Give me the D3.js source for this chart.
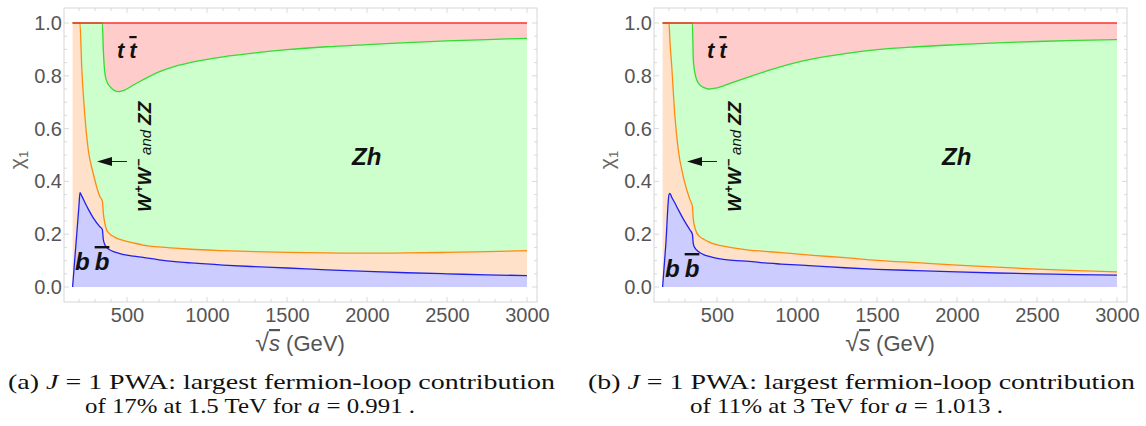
<!DOCTYPE html>
<html><head><meta charset="utf-8">
<script src="https://cdn.jsdelivr.net/npm/d3@7"></script>
<style>body{margin:0;background:#fff}svg{display:block}</style>
</head><body>
<svg id="chart" width="1146" height="426"></svg>
<script>
// centre-of-mass energy grid (GeV)
const sqrtS = [160,180,200,206,217,237,258,289,331,346,352,362,373,394,420,446,480,540,600,700,800,900,1100,1300,1500,1750,2000,2250,2500,2750,3000];

// panel (a): cumulative upper edges of the bb, bb+WW/ZZ and bb+WW/ZZ+Zh shares; tt fills the rest up to 1
const bbUpperA = [0,0.155,0.31,0.357,0.345,0.32,0.295,0.262,0.228,0.218,0.18,0.16,0.15,0.14,0.133,0.128,0.123,0.117,0.112,0.103,0.096,0.091,0.083,0.077,0.072,0.065,0.059,0.054,0.05,0.046,0.043];
const wwUpperA = [1,1,1,1,0.834,0.645,0.519,0.43,0.342,0.325,0.28,0.24,0.216,0.2,0.19,0.182,0.176,0.167,0.159,0.152,0.147,0.143,0.138,0.134,0.131,0.129,0.128,0.129,0.131,0.134,0.138];
const zhUpperA = [1,1,1,1,1,1,1,1,1,1,0.898,0.809,0.78,0.759,0.745,0.74,0.745,0.765,0.785,0.815,0.836,0.851,0.872,0.887,0.899,0.91,0.918,0.926,0.932,0.937,0.942];

// panel (b)
const bbUpperB = [0,0.16,0.35,0.355,0.34,0.318,0.293,0.258,0.216,0.2,0.163,0.148,0.14,0.13,0.122,0.117,0.111,0.105,0.101,0.097,0.091,0.087,0.08,0.073,0.067,0.062,0.057,0.053,0.05,0.047,0.045];
const wwUpperB = [1,1,1,0.93,0.836,0.646,0.52,0.419,0.331,0.306,0.256,0.225,0.206,0.19,0.18,0.172,0.163,0.155,0.148,0.14,0.135,0.13,0.12,0.111,0.101,0.092,0.083,0.075,0.068,0.062,0.057];
const zhUpperB = [1,1,1,1,1,1,1,1,1,1,0.861,0.81,0.785,0.765,0.755,0.75,0.752,0.762,0.775,0.796,0.816,0.835,0.864,0.884,0.899,0.91,0.918,0.925,0.93,0.934,0.937];

const xTickValues = [500,1000,1500,2000,2500,3000];
const yTickValues = [0,0.2,0.4,0.6,0.8,1.0];

const captionsA = ["(a) |J| = 1 PWA: largest fermion-loop contribution", "of 17% at 1.5 TeV for |a| = 0.991 ."];
const captionsB = ["(b) |J| = 1 PWA: largest fermion-loop contribution", "of 11% at 3 TeV for |a| = 1.013 ."];

const svg = d3.select("#chart");
svg.append("rect").attr("width",1146).attr("height",426).attr("fill","#fff");

const fills = {bb:"#ccccff", ww:"#ffe1c9", zh:"#ccffcc", tt:"#ffcccc"};
const strokes = {bb:"#2020ee", ww:"#ff8a10", zh:"#30dd30", tt:"#ff3030"};
const sans = "'Liberation Sans', Arial, sans-serif";
const serif = "'Liberation Serif', 'DejaVu Serif', serif";

function drawPanel(ox, bb, ww, zh, caps, capLayout) {
  const g = svg.append("g").attr("transform", `translate(${ox},0)`);
  const x = d3.scaleLinear().domain([0, 3000]).range([47, 527]);
  const y = d3.scaleLinear().domain([0, 1]).range([287, 23]);
  const fx0 = 64, fx1 = 537, fy0 = 8, fy1 = 302;

  const rows = sqrtS.map((e, i) => ({e, bb: bb[i], ww: ww[i], zh: zh[i]}));
  const curve = d3.curveMonotoneX;
  const band = (lo, hi) => d3.area().curve(curve).x(d => x(d.e)).y0(d => y(lo(d))).y1(d => y(hi(d)));
  const edge = f => d3.line().curve(curve).x(d => x(d.e)).y(d => y(f(d)));

  // frame
  g.append("rect").attr("x", fx0).attr("y", fy0).attr("width", fx1 - fx0).attr("height", fy1 - fy0)
    .attr("fill", "none").attr("stroke", "#d6d6d6").attr("stroke-width", 1);

  // frame ticks (major + minor), drawn inward on all four sides
  const tk = g.append("g").attr("stroke", "#d0d0d0").attr("stroke-width", 0.8);
  d3.range(200, 3001, 100).forEach(v => {
    const L = v % 500 === 0 ? 5 : 3;
    tk.append("line").attr("x1", x(v)).attr("x2", x(v)).attr("y1", fy1).attr("y2", fy1 - L);
    tk.append("line").attr("x1", x(v)).attr("x2", x(v)).attr("y1", fy0).attr("y2", fy0 + L);
  });
  d3.range(0, 21).map(i => i * 0.05).forEach(v => {
    const L = Math.abs(v * 5 - Math.round(v * 5)) < 1e-6 ? 5 : 3;
    tk.append("line").attr("y1", y(v)).attr("y2", y(v)).attr("x1", fx0).attr("x2", fx0 + L);
    tk.append("line").attr("y1", y(v)).attr("y2", y(v)).attr("x1", fx1).attr("x2", fx1 - L);
  });

  // stacked channel shares
  g.append("path").datum(rows).attr("fill", fills.bb).attr("d", band(() => 0, d => d.bb));
  g.append("path").datum(rows).attr("fill", fills.ww).attr("d", band(d => d.bb, d => d.ww));
  g.append("path").datum(rows).attr("fill", fills.zh).attr("d", band(d => d.ww, d => d.zh));
  g.append("path").datum(rows).attr("fill", fills.tt).attr("d", band(d => d.zh, () => 1));

  g.append("path").datum(rows).attr("fill", "none").attr("stroke", strokes.bb).attr("stroke-width", 1.3).attr("d", edge(d => d.bb));
  g.append("path").datum(rows).attr("fill", "none").attr("stroke", strokes.ww).attr("stroke-width", 1.3).attr("d", edge(d => d.ww));
  g.append("path").datum(rows).attr("fill", "none").attr("stroke", strokes.zh).attr("stroke-width", 1.3).attr("d", edge(d => d.zh));
  g.append("path").datum(rows).attr("fill", "none").attr("stroke", strokes.tt).attr("stroke-width", 1.3).attr("d", edge(() => 1));

  // axes labels
  const xa = g.append("g").attr("transform", `translate(0,${fy1})`)
    .call(d3.axisBottom(x).tickValues(xTickValues).tickSize(0).tickPadding(6).tickFormat(d3.format("d")));
  xa.select(".domain").remove();
  xa.selectAll("text").attr("font-family", sans).attr("font-size", 20).attr("fill", "#555");

  const ya = g.append("g").attr("transform", `translate(${fx0},0)`)
    .call(d3.axisLeft(y).tickValues(yTickValues).tickSize(0).tickPadding(2).tickFormat(d3.format(".1f")));
  ya.select(".domain").remove();
  ya.selectAll("text").attr("font-family", sans).attr("font-size", 20).attr("fill", "#555");

  // x title: sqrt(s) (GeV)
  const xt = g.append("text").attr("x", 300).attr("y", 351).attr("text-anchor", "middle")
    .attr("font-family", sans).attr("font-size", 22).attr("fill", "#555");
  xt.append("tspan").attr("font-size", 25).text("√");
  xt.append("tspan").attr("font-style", "italic").attr("text-decoration", "overline").text("s");
  xt.append("tspan").text(" (GeV)");

  // y title: chi_1
  const yt = g.append("text").attr("transform", "translate(24,160) rotate(-90)").attr("text-anchor", "middle")
    .attr("font-family", sans).attr("font-size", 21).attr("fill", "#666");
  yt.append("tspan").text("χ");
  yt.append("tspan").attr("font-size", 13).attr("dy", 4).text("1");

  // channel labels
  const lab = (tx, ty, size) => g.append("text").attr("x", tx).attr("y", ty)
    .attr("font-family", sans).attr("font-weight", "bold").attr("font-style", "italic").attr("font-size", size).attr("fill", "#111");
  const tt = lab(117, 58, 22); tt.append("tspan").text("t");
  tt.append("tspan").attr("dx", 5).attr("text-decoration", "overline").text("t");
  const bbl = lab(75, 270 + (ox ? 7 : 0), 24); bbl.append("tspan").text("b");
  bbl.append("tspan").attr("dx", 5).attr("text-decoration", "overline").text("b");
  lab(352, 165, 24).text("Zh");

  const wl = g.append("text").attr("transform", "translate(151,212) rotate(-90)")
    .attr("font-family", sans).attr("font-style", "italic").attr("fill", "#111");
  wl.append("tspan").attr("font-weight", "bold").attr("font-size", 19).text("W");
  wl.append("tspan").attr("font-weight", "bold").attr("font-size", 13).attr("dy", -8).attr("dx", 1).text("+");
  wl.append("tspan").attr("font-weight", "bold").attr("font-size", 19).attr("dy", 8).text("W");
  wl.append("tspan").attr("font-weight", "bold").attr("font-size", 13).attr("dy", -8).attr("dx", 1).text("−");
  wl.append("tspan").attr("font-size", 15).attr("dy", 8).attr("dx", 4).text("and");
  wl.append("tspan").attr("font-weight", "bold").attr("font-size", 19).attr("dx", 5).text("ZZ");

  // arrow toward the WW/ZZ band
  g.append("line").attr("x1", 127).attr("x2", 110).attr("y1", 161.5).attr("y2", 161.5).attr("stroke", "#222").attr("stroke-width", 1);
  g.append("path").attr("d", "M97,161.5 L112,157 L112,166 Z").attr("fill", "#111");

  // caption
  caps.forEach((line, i) => {
    const t = g.append("text").attr("x", capLayout[i][0]).attr("y", capLayout[i][1])
      .attr("font-family", serif).attr("font-size", 22).attr("fill", "#111")
      .attr("textLength", capLayout[i][2]).attr("lengthAdjust", "spacingAndGlyphs");
    line.split("|").forEach((part, k) => {
      t.append("tspan").attr("font-style", k % 2 ? "italic" : "normal").text(part);
    });
  });
}

drawPanel(0, bbUpperA, wwUpperA, zhUpperA, captionsA, [[8, 389, 547], [85, 413, 330]]);
drawPanel(590, bbUpperB, wwUpperB, zhUpperB, captionsB, [[-2, 389, 547], [100, 413, 313]]);
</script>
</body></html>
